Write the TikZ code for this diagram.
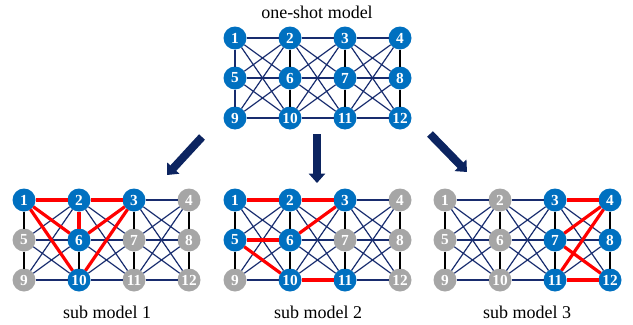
\documentclass[tikz,border=0pt]{standalone}
\usepackage{fontspec}
\setmainfont{Liberation Serif}
\usetikzlibrary{arrows.meta}
\definecolor{nodeblue}{RGB}{0,112,192}
\definecolor{nodegray}{RGB}{166,166,166}
\definecolor{edgenavy}{RGB}{24,44,110}
\definecolor{arrownavy}{RGB}{12,36,96}
\tikzset{on/.style={circle,fill=nodeblue,text=white,minimum size=17.25pt,inner sep=0pt,outer sep=0pt,font=\bfseries\fontsize{11.5}{11.5}\selectfont}}
\tikzset{off/.style={on,fill=nodegray}}
\tikzset{edge/.style={edgenavy,line width=0.9pt}}
\tikzset{vedge/.style={black,line width=1.1pt}}
\tikzset{picked/.style={red,line width=2.4pt}}
\tikzset{bigarrow/.style={arrownavy,line width=6pt,-{Triangle[width=12pt,length=7pt]}}}
\tikzset{caption/.style={font=\fontsize{13.5}{16}\selectfont}}

\begin{document}
\begin{tikzpicture}[x=0.75pt,y=-0.75pt]
  \useasboundingbox (0,0) rectangle (633,325);

  % Nodes: one-shot model (a), sub models (b,c,d)
  \foreach \g/\ox/\oy/\st/\lst in {a/235/38/on/{1,2,...,12},
    b/24/200/on/{1,2,3,6,10}, b/24/200/off/{4,5,7,8,9,11,12},
    c/235/200/on/{1,2,3,5,6,10,11}, c/235/200/off/{4,7,8,9,12},
    d/445/200/on/{3,4,7,8,11,12}, d/445/200/off/{1,2,5,6,9,10}}
  {
    \foreach \n [evaluate=\n as \cx using {\ox+55*mod(\n-1,4)},
                 evaluate=\n as \cy using {\oy+40*int((\n-1)/4)}] in \lst
      \node[\st] (\g\n) at (\cx,\cy) {\n};
  }

  % Edges
  \foreach \g in {a,b,c,d}
  {
    \foreach \c in {1,2,3}
      \foreach \i in {0,1,2}
        \foreach \j in {0,1,2}
        {
          \pgfmathtruncatemacro\s{\c+4*\i}
          \pgfmathtruncatemacro\t{\c+1+4*\j}
          \draw[edge] (\g\s) -- (\g\t);
        }
    \foreach \c in {1,...,8}
    {
      \pgfmathtruncatemacro\t{\c+4}
      \draw[vedge] (\g\c) -- (\g\t);
    }
  }
  \draw[edge,line width=1.1pt] (a1) -- (a5);
  \draw[edge,line width=1.1pt] (a5) -- (a9);

  % Picked paths
  \foreach \s/\t in {1/2,1/6,1/10,2/6,2/3,6/3,10/3}
    \draw[picked] (b\s) -- (b\t);
  \foreach \s/\t in {1/2,5/6,5/10,2/3,6/3,10/11}
    \draw[picked] (c\s) -- (c\t);
  \foreach \s/\t in {3/4,7/4,7/12,11/4,11/12}
    \draw[picked] (d\s) -- (d\t);

  % Arrows
  \coordinate (l0) at (202,137);
  \coordinate (l1) at (167,175);
  \coordinate (m0) at (317,134);
  \coordinate (m1) at (317,183);
  \coordinate (r0) at (430,134);
  \coordinate (r1) at (467,172);
  \draw[bigarrow] (l0) -- (l1);
  \draw[bigarrow] (m0) -- (m1);
  \draw[bigarrow] (r0) -- (r1);

  % Labels
  \node[caption] (top) at (317,12) {one-shot model};
  \node[caption] (cap1) at (107,312) {sub model 1};
  \node[caption] (cap2) at (318,312) {sub model 2};
  \node[caption] (cap3) at (527,312) {sub model 3};
\end{tikzpicture}
\end{document}
